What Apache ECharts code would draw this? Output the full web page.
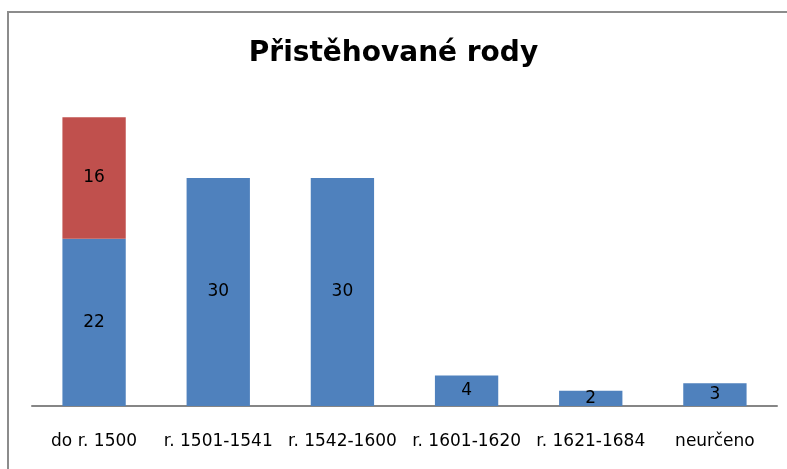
<!DOCTYPE html>
<html>
<head>
<meta charset="utf-8">
<script src="https://cdn.jsdelivr.net/npm/echarts@6/dist/echarts.min.js"></script>
<style>
  html, body { margin: 0; padding: 0; background: #fff; }
  #frame {
    position: absolute; left: 7px; top: 11px; width: 790px; height: 470px;
    border-left: 2px solid #8c8c8c; border-top: 2px solid #8c8c8c;
  }
  #main { position: absolute; left: 0; top: 0; width: 787px; height: 469px; }
</style>
</head>
<body>
<div id="frame"></div>
<div id="main"></div>
<script>
// kategorie a hodnoty
const categories = ['do r. 1500', 'r. 1501-1541', 'r. 1542-1600', 'r. 1601-1620', 'r. 1621-1684', 'neurčeno'];
const blueValues = [22, 30, 30, 4, 2, 3];
const redValues = [16, null, null, null, null, null];

const chart = echarts.init(document.getElementById('main'));

const labelStyle = {
  show: true,
  position: 'inside',
  color: '#000',
  fontFamily: 'DejaVu Sans',
  fontSize: 17
};

chart.setOption({
  animation: false,
  title: {
    text: 'Přistěhované rody',
    left: 'center',
    top: 35,
    textStyle: {
      fontFamily: 'DejaVu Sans',
      fontWeight: 'bold',
      fontSize: 28,
      color: '#000'
    }
  },
  grid: {
    left: 32,
    right: 10,
    top: 102,
    bottom: 63
  },
  xAxis: {
    type: 'category',
    data: categories,
    axisLine: { lineStyle: { color: '#868686', width: 2 } },
    axisTick: { show: false },
    axisLabel: {
      color: '#000',
      fontFamily: 'DejaVu Sans',
      fontSize: 17,
      margin: 27,
      interval: 0
    }
  },
  yAxis: {
    type: 'value',
    min: 0,
    max: 40,
    show: false
  },
  series: [
    {
      name: 'a',
      type: 'bar',
      stack: 'total',
      data: blueValues,
      barWidth: '51%',
      itemStyle: { color: '#4f81bd' },
      label: labelStyle
    },
    {
      name: 'b',
      type: 'bar',
      stack: 'total',
      data: redValues,
      barWidth: '51%',
      itemStyle: { color: '#c0504d' },
      label: labelStyle
    }
  ]
});
</script>
</body>
</html>
